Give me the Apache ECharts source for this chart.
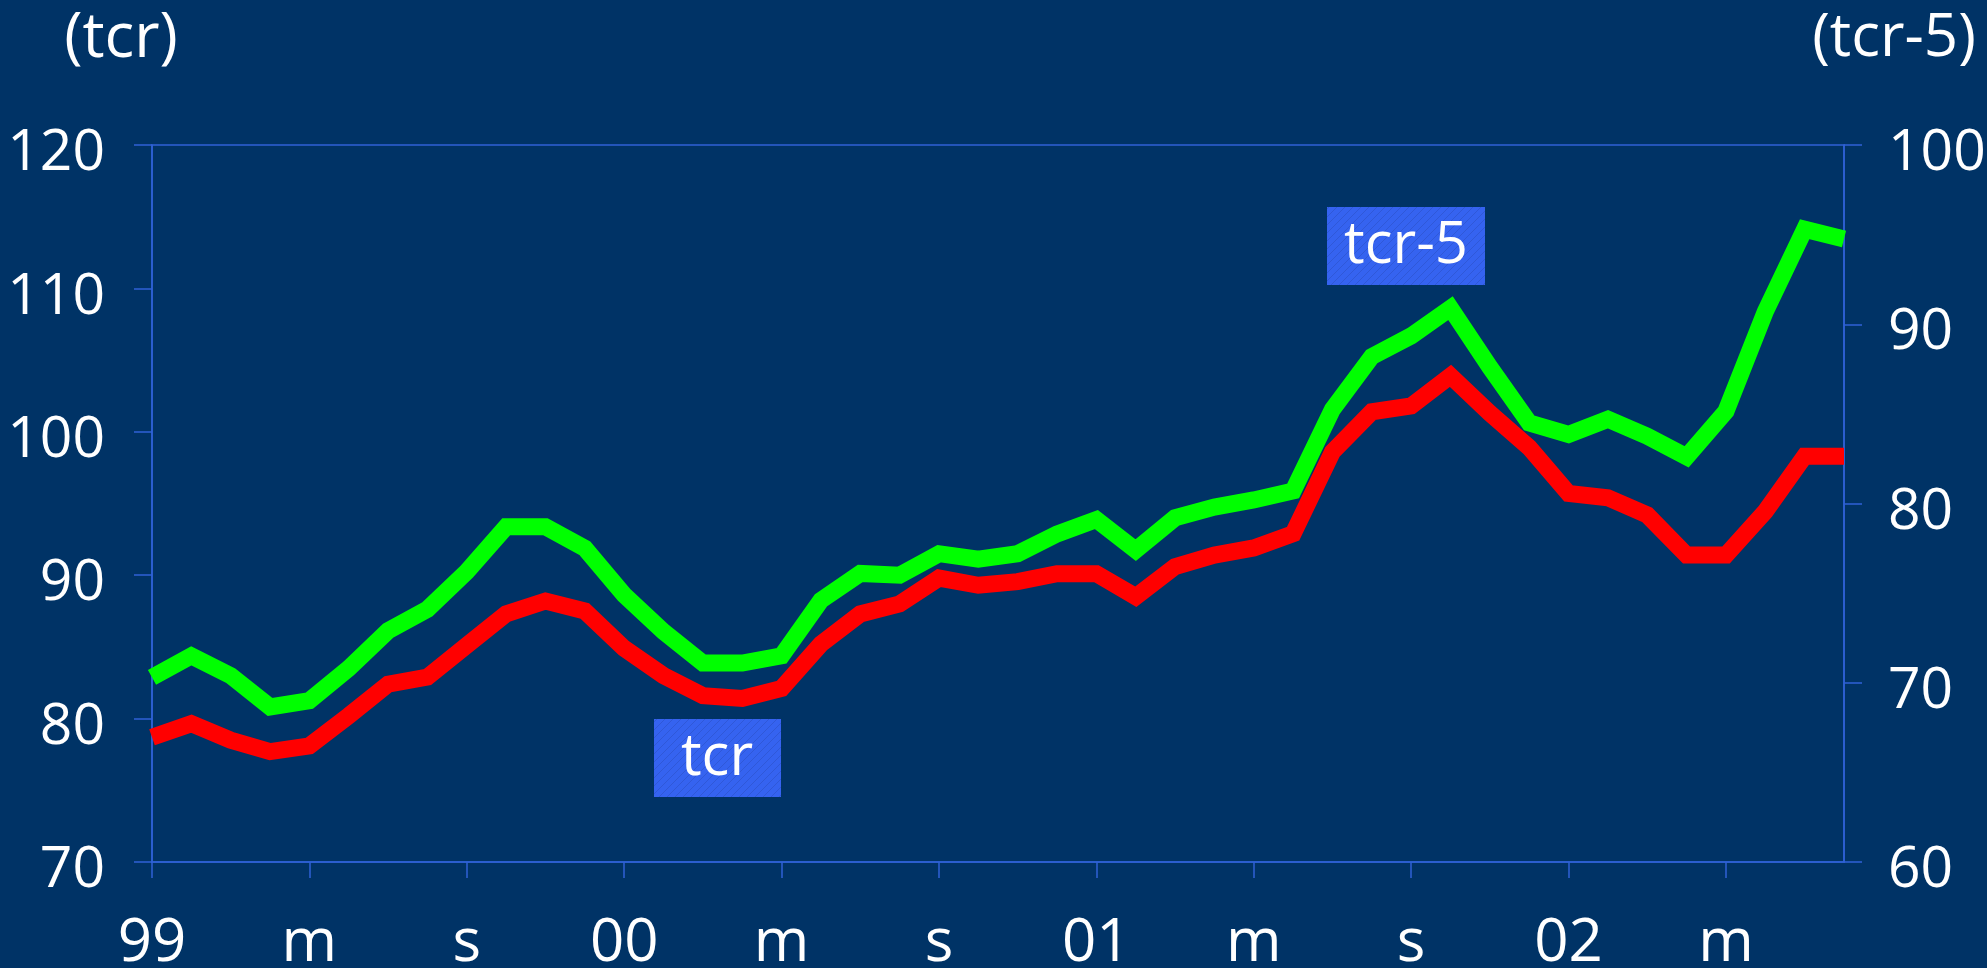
<!DOCTYPE html>
<html><head><meta charset="utf-8">
<script src="https://cdn.jsdelivr.net/npm/echarts@6/dist/echarts.min.js"></script>
<style>html,body{margin:0;padding:0;background:#003366;}#c{width:1987px;height:968px;}</style>
</head><body><div id="c"></div>
<script>
// Monthly categories Jan 1999 - Aug 2002 (January shown as the year)
const months = [
  '99','f','m','a','m','g','l','a','s','o','n','d',
  '00','f','m','a','m','g','l','a','s','o','n','d',
  '01','f','m','a','m','g','l','a','s','o','n','d',
  '02','f','m','a','m','g','l','a'
];
// tcr (left axis)
const tcr = [
  78.7, 79.65, 78.5, 77.7, 78.1, 80.2, 82.4, 82.9, 85.1, 87.3, 88.2, 87.5,
  84.9, 83.0, 81.6, 81.4, 82.1, 85.2, 87.3, 88.0, 89.8, 89.3, 89.55, 90.1,
  90.1, 88.5, 90.6, 91.4, 91.9, 92.9, 98.6, 101.4, 101.8, 103.9, 101.3, 98.9,
  95.7, 95.4, 94.2, 91.4, 91.4, 94.45, 98.3, 98.3
];
// tcr-5 (right axis)
const tcr5 = [
  70.3, 71.5, 70.4, 68.65, 69.0, 70.8, 72.9, 74.1, 76.2, 78.7, 78.7, 77.5,
  74.9, 72.85, 71.1, 71.1, 71.5, 74.6, 76.1, 76.0, 77.2, 76.9, 77.2, 78.3,
  79.1, 77.4, 79.2, 79.8, 80.2, 80.7, 85.25, 88.2, 89.35, 90.9, 87.6, 84.5,
  83.85, 84.7, 83.75, 82.6, 85.15, 90.7, 95.3, 94.75
];
const leftRange = [70, 120];
const rightRange = [60, 100];
const tickStep = 10;
const axisNames = ['(tcr)', '(tcr-5)'];
const boxLabels = ['tcr', 'tcr-5'];

const axisColor = '#2f62d6';
const font = "'Open Sans', sans-serif";
const shadow = {textShadowColor: '#000', textShadowOffsetX: 2, textShadowOffsetY: 2, textShadowBlur: 0};
const yRich = {v: Object.assign({color: '#fff', fontSize: 57, fontFamily: font, lineHeight: 57,
  padding: [18, 0, 0, 0]}, shadow)};

function hatch(){
  const c = document.createElement('canvas');
  c.width = 8; c.height = 8;
  const g = c.getContext('2d');
  g.fillStyle = '#3563f0'; g.fillRect(0,0,8,8);
  g.strokeStyle = '#2f58d8'; g.lineWidth = 1;
  g.beginPath(); g.moveTo(0,8); g.lineTo(8,0); g.stroke();
  return c;
}
const pat = {image: hatch(), repeat: 'repeat'};

const chart = echarts.init(document.getElementById('c'));
chart.setOption({
  backgroundColor: '#003366',
  animation: false,
  grid: {left: 152, top: 145, width: 1692, height: 717, show: true, outerBoundsMode: 'none',
         containLabel: false,
         borderColor: axisColor, borderWidth: 1.5, backgroundColor: 'transparent'},
  xAxis: {
    type: 'category', data: months, boundaryGap: false,
    axisLine: {lineStyle: {color: axisColor, width: 1.5}},
    axisTick: {interval: 3, length: 16, lineStyle: {color: axisColor, width: 1.5}},
    axisLabel: Object.assign({interval: 3, color: '#fff', fontSize: 60, fontFamily: font,
      margin: 52, lineHeight: 60}, shadow),
    splitLine: {show: false}
  },
  yAxis: [
    {type: 'value', min: leftRange[0], max: leftRange[1], interval: tickStep, position: 'left',
     name: axisNames[0], nameLocation: 'end', nameGap: 74,
     nameTextStyle: Object.assign({color: '#fff', fontSize: 62, fontFamily: font, lineHeight: 64,
       align: 'center', padding: [0, 62, 0, 0]}, shadow),
     axisLine: {show: true, lineStyle: {color: axisColor, width: 1.5}},
     axisTick: {show: true, inside: false, length: 18, lineStyle: {color: axisColor, width: 1.5}},
     axisLabel: {formatter: '{v|{value}}', rich: yRich, margin: 47},
     splitLine: {show: false}},
    {type: 'value', min: rightRange[0], max: rightRange[1], interval: tickStep, position: 'right',
     name: axisNames[1], nameLocation: 'end', nameGap: 74,
     nameTextStyle: Object.assign({color: '#fff', fontSize: 60, fontFamily: font, lineHeight: 64,
       align: 'center', padding: [0, 0, 0, 100]}, shadow),
     axisLine: {show: true, lineStyle: {color: axisColor, width: 1.5}},
     axisTick: {show: true, inside: false, length: 18, lineStyle: {color: axisColor, width: 1.5}},
     axisLabel: {formatter: '{v|{value}}', rich: yRich, margin: 44},
     splitLine: {show: false}}
  ],
  series: [
    {name: 'tcr-5', type: 'line', yAxisIndex: 1, data: tcr5, showSymbol: false, symbol: 'none',
     lineStyle: {color: '#00ff00', width: 17, cap: 'butt', join: 'miter'}},
    {name: 'tcr', type: 'line', yAxisIndex: 0, data: tcr, showSymbol: false, symbol: 'none',
     lineStyle: {color: '#ff0000', width: 17, cap: 'butt', join: 'miter'}}
  ],
  graphic: [
    {type: 'rect', shape: {x: 654, y: 719, width: 127, height: 78}, style: {fill: pat}, z: 10},
    {type: 'text', x: 717, y: 758, z: 11, style: {text: boxLabels[0], fill: '#fff', font: "58px 'Open Sans', sans-serif",
      align: 'center', verticalAlign: 'middle'}},
    {type: 'rect', shape: {x: 1327, y: 207, width: 158, height: 78}, style: {fill: pat}, z: 10},
    {type: 'text', x: 1406, y: 246, z: 11, style: {text: boxLabels[1], fill: '#fff', font: "58px 'Open Sans', sans-serif",
      align: 'center', verticalAlign: 'middle'}}
  ]
});
</script></body></html>
